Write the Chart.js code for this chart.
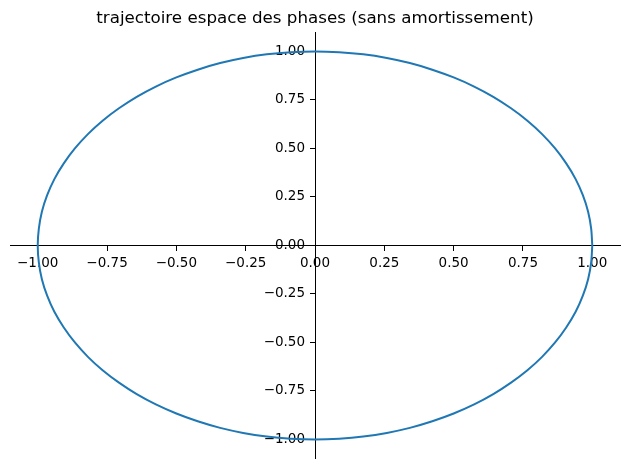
<!DOCTYPE html>
<html>
<head>
<meta charset="utf-8">
<script src="https://cdn.jsdelivr.net/npm/chart.js@4/dist/chart.umd.min.js"></script>
<style>
html,body{margin:0;padding:0;background:#fff;}
#wrap{width:630px;height:470px;}
</style>
</head>
<body>
<div id="wrap"><canvas id="c" width="630" height="470"></canvas></div>
<script>
const titleText = "trajectoire espace des phases (sans amortissement)";
const positionX = [1, 0.996, 0.985, 0.966, 0.940, 0.906, 0.866, 0.819, 0.766, 0.707, 0.643, 0.574, 0.5, 0.423, 0.342, 0.259, 0.174, 0.087, 0, -0.087, -0.174, -0.259, -0.342, -0.423, -0.5, -0.574, -0.643, -0.707, -0.766, -0.819, -0.866, -0.906, -0.940, -0.966, -0.985, -0.996, -1, -0.996, -0.985, -0.966, -0.940, -0.906, -0.866, -0.819, -0.766, -0.707, -0.643, -0.574, -0.5, -0.423, -0.342, -0.259, -0.174, -0.087, 0, 0.087, 0.174, 0.259, 0.342, 0.423, 0.5, 0.574, 0.643, 0.707, 0.766, 0.819, 0.866, 0.906, 0.940, 0.966, 0.985, 0.996, 1];
const velocityY = [0, 0.087, 0.174, 0.259, 0.342, 0.423, 0.5, 0.574, 0.643, 0.707, 0.766, 0.819, 0.866, 0.906, 0.940, 0.966, 0.985, 0.996, 1, 0.996, 0.985, 0.966, 0.940, 0.906, 0.866, 0.819, 0.766, 0.707, 0.643, 0.574, 0.5, 0.423, 0.342, 0.259, 0.174, 0.087, 0, -0.087, -0.174, -0.259, -0.342, -0.423, -0.5, -0.574, -0.643, -0.707, -0.766, -0.819, -0.866, -0.906, -0.940, -0.966, -0.985, -0.996, -1, -0.996, -0.985, -0.966, -0.940, -0.906, -0.866, -0.819, -0.766, -0.707, -0.643, -0.574, -0.5, -0.423, -0.342, -0.259, -0.174, -0.087, 0];
const xTicks = [-1, -0.75, -0.5, -0.25, 0, 0.25, 0.5, 0.75, 1];
const yTicks = [-1, -0.75, -0.5, -0.25, 0, 0.25, 0.5, 0.75, 1];

const points = positionX.map((x, i) => ({x: x, y: velocityY[i]}));
const fmt = v => { const s = Number(v).toFixed(2); return s.replace('-', '\u2212'); };
const tickFont = {family: 'DejaVu Sans', size: 13.5};

function shiftYLabels(s) {
  s.width = 0;
  if (!s._shiftPatched) {
    const orig = s._computeLabelItems;
    s._computeLabelItems = function (ca) {
      const items = orig.call(this, ca);
      items.forEach(it => { it.options.translation[0] -= 10; });
      return items;
    };
    s._shiftPatched = true;
  }
}

new Chart(document.getElementById('c'), {
  type: 'scatter',
  data: {
    datasets: [{
      data: points,
      showLine: true,
      pointRadius: 0,
      borderColor: '#1f77b4',
      borderWidth: 2,
      tension: 0.33,
      fill: false
    }]
  },
  options: {
    responsive: false,
    animation: false,
    layout: {padding: {left: 10, right: 10, top: 0, bottom: 10}},
    plugins: {
      legend: {display: false},
      tooltip: {enabled: false},
      title: {
        display: true,
        text: titleText,
        color: '#000',
        font: {family: 'DejaVu Sans', size: 16.7, weight: 'normal', lineHeight: 1.2},
        padding: {top: 9, bottom: 3}
      }
    },
    scales: {
      x: {
        type: 'linear',
        min: -1.1, max: 1.1,
        position: {y: 0},
        afterBuildTicks: s => { s.ticks = xTicks.map(v => ({value: v})); },
        afterFit: s => { s.height = 0; },
        ticks: {callback: v => fmt(v), color: '#000', font: tickFont, maxRotation: 0, autoSkip: false, padding: 4.5},
        grid: {display: true, drawOnChartArea: false, drawTicks: true, tickLength: 5, color: '#000', tickWidth: 1},
        border: {display: true, color: '#000', width: 1}
      },
      y: {
        type: 'linear',
        min: -1.1, max: 1.1,
        position: {x: 0},
        afterBuildTicks: s => { s.ticks = yTicks.map(v => ({value: v})); },
        afterFit: shiftYLabels,
        ticks: {callback: v => fmt(v), color: '#000', font: tickFont, autoSkip: false, padding: 3},
        grid: {display: true, drawOnChartArea: false, drawTicks: true, tickLength: 5, color: '#000', tickWidth: 1},
        border: {display: true, color: '#000', width: 1}
      }
    }
  }
});
</script>
</body>
</html>
